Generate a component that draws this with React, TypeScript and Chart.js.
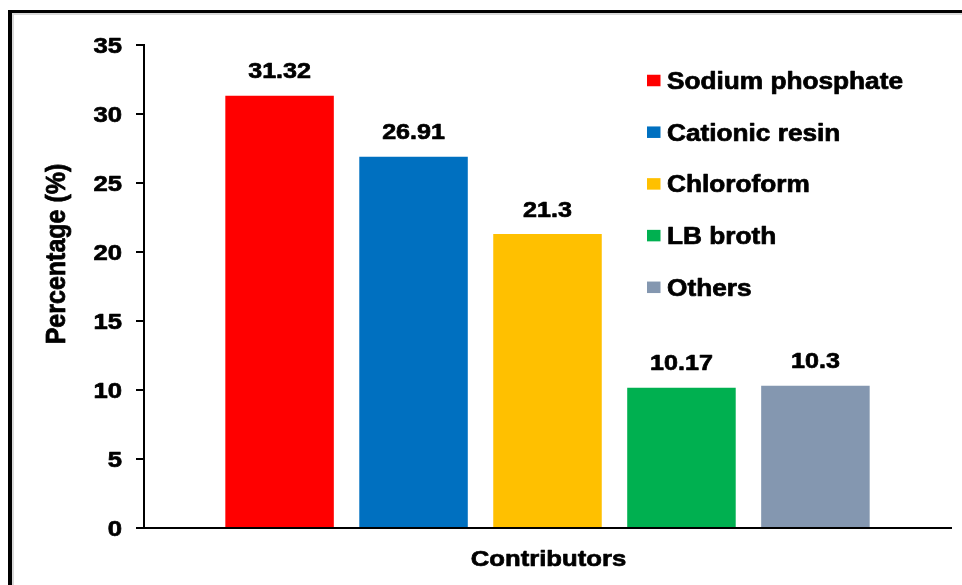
import React, { useEffect, useRef } from "react";
import { Chart, registerables } from "chart.js";

Chart.register(...registerables);

const contributors = ["Sodium phosphate", "Cationic resin", "Chloroform", "LB broth", "Others"];
const percentages = [31.32, 26.91, 21.3, 10.17, 10.3];
const barColors = ["#FF0000", "#0070C0", "#FFC000", "#00B050", "#8497B0"];
const categoryLabels = ["Contributors"];
const yMin = 0;
const yMax = 35;
const yStep = 5;
const yTitle = "Percentage (%)";
const xTitle = "Contributors";

const FONT = "'Liberation Sans', Arial, Helvetica, sans-serif";
const STRETCH = 1.14;

function heavyText(ctx: any, text: string) {
  ctx.fillText(text, 0, 0);
  ctx.lineWidth = 0.7;
  ctx.strokeStyle = "#000";
  ctx.lineJoin = "round";
  ctx.strokeText(text, 0, 0);
}

function stretchedText(ctx: any, text: string, x: number, y: number, align: CanvasTextAlign) {
  ctx.save();
  ctx.translate(x, y);
  ctx.scale(STRETCH, 1);
  ctx.textAlign = align;
  heavyText(ctx, text);
  ctx.restore();
}

const textPlugin = {
  id: "customText",
  afterDraw(chart: any) {
    const ctx = chart.ctx as any;
    const area = chart.chartArea;
    const yScale = chart.scales.y;
    ctx.save();
    ctx.fillStyle = "#000";
    ctx.textBaseline = "alphabetic";

    // y tick labels
    ctx.font = `bold 22.5px ${FONT}`;
    yScale.ticks.forEach((t: any) => {
      const py = yScale.getPixelForValue(t.value);
      stretchedText(ctx, String(t.value), 122, py + 8, "right");
    });

    // data labels
    ctx.font = `bold 22px ${FONT}`;
    chart.data.datasets.forEach((ds: any, i: number) => {
      const meta = chart.getDatasetMeta(i);
      meta.data.forEach((el: any, j: number) => {
        stretchedText(ctx, String(ds.data[j]), el.x, el.y - 17.5, "center");
      });
    });

    // x title
    ctx.font = `bold 22.5px ${FONT}`;
    stretchedText(ctx, xTitle, (area.left + area.right) / 2 + 1, 566, "center");

    // y title
    ctx.save();
    ctx.font = `bold 25px ${FONT}`;
    ctx.translate(57.5, 254);
    ctx.scale(STRETCH, 1);
    ctx.rotate(-Math.PI / 2);
    ctx.textAlign = "center";
    ctx.textBaseline = "middle";
    heavyText(ctx, yTitle);
    ctx.restore();

    // legend
    ctx.font = `bold 23px ${FONT}`;
    const boxX = area.right - 304;
    chart.data.datasets.forEach((ds: any, i: number) => {
      const cy = area.top + 35.5 + i * 51.7;
      ctx.fillStyle = ds.backgroundColor;
      ctx.fillRect(boxX, cy - 5.75, 13.5, 11.5);
      ctx.fillStyle = "#000";
      stretchedText(ctx, ds.label, boxX + 20, cy + 8.4, "left");
    });
    ctx.restore();
  },
};

export default function App() {
  const ref = useRef<HTMLCanvasElement>(null);
  useEffect(() => {
    if (!ref.current) return;
    const chart = new Chart(ref.current, {
      type: "bar",
      data: {
        labels: categoryLabels,
        datasets: contributors.map((name, i) => ({
          label: name,
          data: [percentages[i]],
          backgroundColor: barColors[i],
          borderWidth: 0,
          categoryPercentage: 0.83,
          barPercentage: 0.81,
        })),
      },
      options: {
        animation: false,
        responsive: false,
        events: [],
        layout: { padding: { top: 45, right: 11, bottom: 0, left: 0 } },
        plugins: {
          legend: { display: false },
          tooltip: { enabled: false },
        },
        scales: {
          x: {
            ticks: { display: false },
            grid: { display: false, drawTicks: false },
            border: { display: true, color: "#000", width: 2 },
            title: { display: false, text: xTitle },
            afterFit: (s: any) => {
              s.height = 57;
            },
          },
          y: {
            min: yMin,
            max: yMax,
            ticks: { stepSize: yStep, display: false },
            grid: {
              display: true,
              drawOnChartArea: false,
              drawTicks: true,
              tickLength: 8,
              color: "#000",
              lineWidth: 2,
            },
            border: { display: true, color: "#000", width: 2 },
            title: { display: false, text: yTitle },
            afterFit: (s: any) => {
              s.width = 144;
            },
          },
        },
      },
      plugins: [textPlugin],
    });
    return () => chart.destroy();
  }, []);

  return (
    <div
      style={{
        position: "fixed",
        left: 0,
        top: 0,
        width: 962,
        height: 585,
        overflow: "hidden",
        background: "#fff",
      }}
    >
      <div
        style={{
          position: "absolute",
          left: 8,
          top: 10,
          width: 2000,
          height: 2000,
          borderLeft: "4px solid #000",
          borderTop: "3px solid #000",
          boxShadow: "inset 2px 2px 0 #d9d9d9",
        }}
      />
      <canvas
        ref={ref}
        width={962}
        height={585}
        style={{ position: "absolute", left: 0, top: 0, display: "block" }}
      />
    </div>
  );
}
